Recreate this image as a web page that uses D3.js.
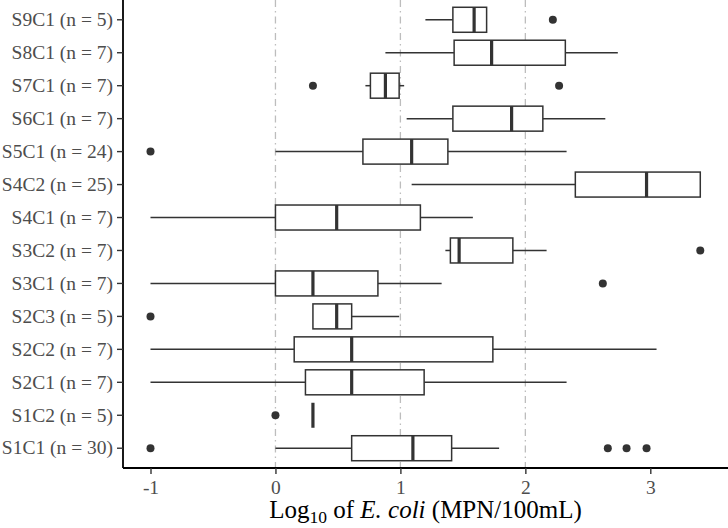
<!DOCTYPE html>
<html>
<head>
<meta charset="utf-8">
<script src="https://cdn.jsdelivr.net/npm/d3@7"></script>
<style>
  body { margin: 0; background: #fff; }
  text { font-family: "Liberation Serif", "Times New Roman", serif; }
</style>
</head>
<body>
<div id="chart"></div>
<script>
// categories, top to bottom
let sites = ["S9C1", "S8C1", "S7C1", "S6C1", "S5C1", "S4C2", "S4C1", "S3C2", "S3C1", "S2C3", "S2C2", "S2C1", "S1C2", "S1C1"];
let counts = [5, 7, 7, 7, 24, 25, 7, 7, 7, 5, 7, 7, 5, 30];

// box stats, log10 MPN/100mL
let whiskerLow  = [1.20, 0.88, 0.72, 1.05, 0.00, 1.09, -1.00, 1.36, -1.00, 0.30, -1.00, -1.00, 0.30, 0.00];
let q1          = [1.42, 1.43, 0.76, 1.42, 0.70, 2.40, 0.00, 1.40, 0.00, 0.30, 0.15, 0.24, 0.30, 0.61];
let median      = [1.59, 1.73, 0.88, 1.89, 1.09, 2.97, 0.49, 1.47, 0.30, 0.49, 0.61, 0.61, 0.30, 1.10];
let q3          = [1.69, 2.32, 0.99, 2.14, 1.38, 3.40, 1.16, 1.90, 0.82, 0.61, 1.74, 1.19, 0.30, 1.41];
let whiskerHigh = [1.69, 2.74, 1.03, 2.64, 2.33, 3.40, 1.58, 2.17, 1.33, 0.99, 3.05, 2.33, 0.30, 1.79];
let outliers = [
    [2.22], [], [0.30, 2.27], [], [-1.00], [], [], [3.40], [2.62], [-1.00], [], [], [0.00], [-1.00, 2.66, 2.81, 2.97]
];

let xTicks = [-1, 0, 1, 2, 3];
let refLines = [0, 1, 2];

let width = 728,
    height = 528;
let margin = {top: 0, right: 0, bottom: 60, left: 123};

let svg = d3.select("#chart")
    .append("svg")
    .attr("width", width)
    .attr("height", height);

let xScale = d3.scaleLinear()
    .domain([-1, 3])
    .range([150.5, 650.3]);

let yScale = d3.scaleBand()
    .domain(sites)
    .range([margin.top, height - margin.bottom])
    .paddingOuter(0.1)
    .paddingInner(0);

let boxH = 25;
let yMid = function (i) { return yScale(sites[i]) + yScale.bandwidth() / 2; };

// dashed reference lines
svg.append("g")
    .selectAll("line")
    .data(refLines)
    .enter().append("line")
    .attr("x1", d => xScale(d))
    .attr("x2", d => xScale(d))
    .attr("y1", margin.top)
    .attr("y2", height - margin.bottom)
    .attr("stroke", "#bdbdbd")
    .attr("stroke-width", 1.3)
    .attr("stroke-dasharray", "7,4,1.5,4");

let boxes = svg.append("g")
    .selectAll("g")
    .data(sites)
    .enter().append("g");

// whiskers
boxes.append("line")
    .attr("x1", (d, i) => xScale(whiskerLow[i]))
    .attr("x2", (d, i) => xScale(q1[i]))
    .attr("y1", (d, i) => yMid(i))
    .attr("y2", (d, i) => yMid(i))
    .attr("stroke", "#333")
    .attr("stroke-width", 1.5);

boxes.append("line")
    .attr("x1", (d, i) => xScale(q3[i]))
    .attr("x2", (d, i) => xScale(whiskerHigh[i]))
    .attr("y1", (d, i) => yMid(i))
    .attr("y2", (d, i) => yMid(i))
    .attr("stroke", "#333")
    .attr("stroke-width", 1.5);

// box
boxes.append("rect")
    .attr("x", (d, i) => xScale(q1[i]))
    .attr("width", (d, i) => xScale(q3[i]) - xScale(q1[i]))
    .attr("y", (d, i) => yMid(i) - boxH / 2)
    .attr("height", boxH)
    .attr("fill", "#fff")
    .attr("stroke", "#333")
    .attr("stroke-width", 1.5);

// median
boxes.append("line")
    .attr("x1", (d, i) => xScale(median[i]))
    .attr("x2", (d, i) => xScale(median[i]))
    .attr("y1", (d, i) => yMid(i) - boxH / 2)
    .attr("y2", (d, i) => yMid(i) + boxH / 2)
    .attr("stroke", "#333")
    .attr("stroke-width", 3.2);

// outliers
boxes.each(function (d, i) {
    d3.select(this).selectAll("circle")
        .data(outliers[i])
        .enter().append("circle")
        .attr("cx", v => xScale(v))
        .attr("cy", yMid(i))
        .attr("r", 4)
        .attr("fill", "#333");
});

// axes
let yAxis = svg.append("g")
    .attr("transform", "translate(" + margin.left + ",0)")
    .call(d3.axisLeft(yScale)
        .tickSize(6)
        .tickPadding(4)
        .tickFormat((d, i) => d + " (n = " + counts[i] + ")"));
yAxis.select(".domain").attr("stroke", "#000").attr("stroke-width", 1.8)
    .attr("d", "M0," + margin.top + "V" + (height - margin.bottom));
yAxis.selectAll(".tick line").attr("stroke", "#333").attr("stroke-width", 1.4);
yAxis.selectAll(".tick text")
    .attr("fill", "#4d4d4d")
    .style("font-size", "19.5px")
    .style("font-family", "'Liberation Serif', serif");

let xAxis = svg.append("g")
    .attr("transform", "translate(0," + (height - margin.bottom) + ")")
    .call(d3.axisBottom(xScale)
        .tickValues(xTicks)
        .tickSize(6)
        .tickPadding(6)
        .tickFormat(d => String(d)));
xAxis.select(".domain").attr("stroke", "#000").attr("stroke-width", 1.8)
    .attr("d", "M" + margin.left + ",0H" + width);
xAxis.selectAll(".tick line").attr("stroke", "#333").attr("stroke-width", 1.4);
xAxis.selectAll(".tick text")
    .attr("fill", "#4d4d4d")
    .style("font-size", "19.5px")
    .style("font-family", "'Liberation Serif', serif");

// axis title
let title = svg.append("text")
    .attr("x", (margin.left + width) / 2)
    .attr("y", 518)
    .attr("text-anchor", "middle")
    .attr("fill", "#000")
    .style("font-size", "25px");
title.append("tspan").text("Log");
title.append("tspan").attr("dy", 5).style("font-size", "17.5px").text("10");
title.append("tspan").attr("dy", -5).text(" of ");
title.append("tspan").style("font-style", "italic").text("E. coli");
title.append("tspan").text(" (MPN/100mL)");
</script>
</body>
</html>
